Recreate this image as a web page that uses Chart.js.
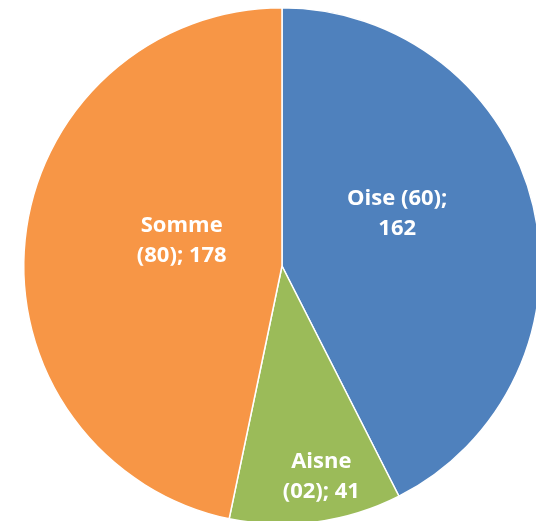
<!DOCTYPE html>
<html>
<head>
<meta charset="utf-8">
<script src="https://cdn.jsdelivr.net/npm/chart.js@4.4.1/dist/chart.umd.min.js"></script>
<style>
  html, body { margin: 0; padding: 0; background: #fff; overflow: hidden; }
  #wrap { position: absolute; left: 0; top: 7px; width: 564px; height: 518px; }
</style>
</head>
<body>
<div id="wrap"><canvas id="pieChart"></canvas></div>
<script>
// données du graphique
const departements = ['Oise (60)', 'Aisne (02)', 'Somme (80)'];
const valeurs = [162, 41, 178];
const couleurs = ['#4F81BD', '#9BBB59', '#F79646'];
// texte des étiquettes (deux lignes comme dans Excel)
const etiquettes = [
    ['Oise (60);', '162'],
    ['Aisne', '(02); 41'],
    ['Somme', '(80); 178']
];
// placement des étiquettes : fraction du rayon et petit décalage d'angle (degrés)
const rayonEtiquette = [0.49, 0.83, 0.40];
const decalAngle = [-11, -3, 8];

// plugin pour dessiner les étiquettes dans les parts
const etiquettesPlugin = {
    id: 'etiquettes',
    afterDatasetsDraw(chart) {
        const ctx = chart.ctx;
        const meta = chart.getDatasetMeta(0);
        ctx.save();
        ctx.fillStyle = '#ffffff';
        ctx.font = 'bold 22px "Open Sans", sans-serif';
        ctx.textAlign = 'center';
        ctx.textBaseline = 'middle';
        meta.data.forEach((arc, i) => {
            const p = arc.getProps(['x', 'y', 'startAngle', 'endAngle', 'outerRadius'], true);
            const a = (p.startAngle + p.endAngle) / 2 + decalAngle[i] * Math.PI / 180;
            const r = p.outerRadius * rayonEtiquette[i];
            const cx = p.x + Math.cos(a) * r;
            const cy = p.y + Math.sin(a) * r;
            const lignes = etiquettes[i];
            const h = 30;
            lignes.forEach((txt, j) => {
                ctx.fillText(txt, cx, cy + (j - (lignes.length - 1) / 2) * h);
            });
        });
        ctx.restore();
    }
};

document.addEventListener('DOMContentLoaded', function () {
    var ctx = document.getElementById('pieChart').getContext('2d');
    var pieChart = new Chart(ctx, {
        type: 'pie',
        data: {
            labels: departements,
            datasets: [{
                data: valeurs,
                backgroundColor: couleurs,
                borderColor: '#ffffff',
                borderWidth: 1.5
            }]
        },
        options: {
            responsive: true,
            maintainAspectRatio: false,
            animation: false,
            layout: { padding: 0 },
            plugins: {
                legend: { display: false },
                tooltip: { enabled: false }
            }
        },
        plugins: [etiquettesPlugin]
    });
});
</script>
</body>
</html>
